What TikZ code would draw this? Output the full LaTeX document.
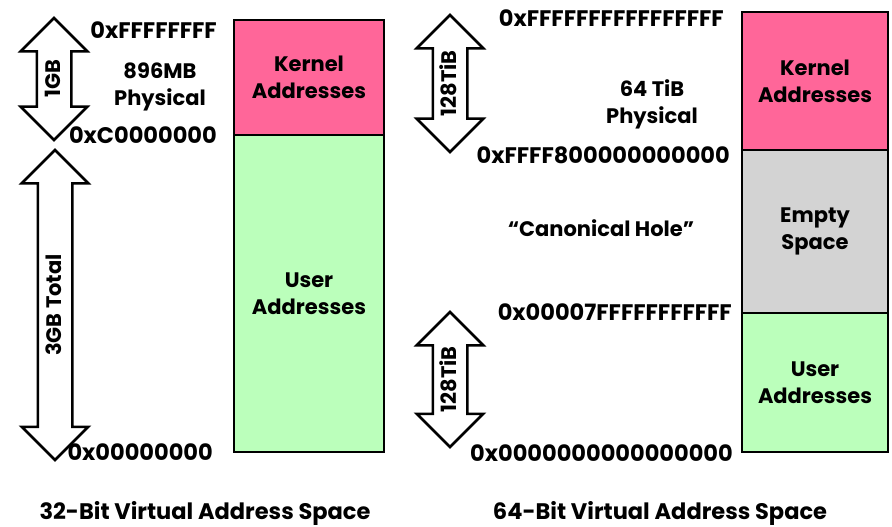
\documentclass[tikz,border=0pt]{standalone}
\usepackage{fontspec}
\setmainfont{Poppins}
\usetikzlibrary{shapes.arrows}
\definecolor{kernpink}{RGB}{255,102,153}
\definecolor{usergreen}{RGB}{187,255,187}
\definecolor{holegray}{RGB}{211,211,211}
\tikzset{
 seg/.style={draw=black, line width=2.5pt, align=center, inner sep=0pt},
 span/.style={double arrow, draw=black, line width=2.5pt, fill=white, rotate=90,
   double arrow head extend=16pt, text height=13pt, text depth=0pt,
   inner xsep=0pt, inner ysep=9.5pt},
 addr/.style={anchor=east, inner sep=0pt, font=\fontsize{22.5}{27}\selectfont\bfseries},
 lbl/.style={align=center, inner sep=0pt},
 caption/.style={inner sep=0pt, font=\fontsize{22.5}{27}\selectfont\bfseries}
}

\begin{document}
\begin{tikzpicture}[x=1pt, y=-1pt, font=\fontsize{21}{27}\selectfont\bfseries]
\useasboundingbox (0,0) rectangle (892,527);
% 32-bit layout
\node[seg, fill=kernpink, minimum width=150, minimum height=115] (kern32) at (309,77.5) {Kernel\\Addresses};
\node[seg, fill=usergreen, minimum width=150, minimum height=317] (user32) at (309,293.5) {User\\Addresses};
\node[span, minimum height=122] (gb1) at (54,79) {1GB};
\node[span, minimum height=310] (gb3) at (55,305) {3GB Total};
\node[addr] (top32) at (217,30) {0xFFFFFFFF};
\node[addr] (mid32) at (217,135) {0xC0000000};
\node[addr] (bot32) at (213,452) {0x00000000};
\node[lbl] (phys32) at (160,86.5) {896MB\\Physical};
\node[caption] (cap32) at (205,513) {32-Bit Virtual Address Space};
% 64-bit layout
\node[seg, fill=kernpink, minimum width=146, minimum height=138] (kern64) at (815,81) {Kernel\\Addresses};
\node[seg, fill=holegray, minimum width=146, minimum height=163] (hole64) at (815,231.5) {Empty\\Space};
\node[seg, fill=usergreen, minimum width=146, minimum height=139] (user64) at (815,382.5) {User\\Addresses};
\node[span, minimum height=137] (tib1) at (450,83.5) {128TiB};
\node[span, minimum height=135] (tib2) at (450,379.5) {128TiB};
\node[addr] (top64) at (724,18) {0xFFFFFFFFFFFFFFFF};
\node[addr] (hi64) at (730,155) {0xFFFF800000000000};
\node[addr] (lo64) at (732,312) {0x00007FFFFFFFFFFF};
\node[addr] (bot64) at (733,453) {0x0000000000000000};
\node[lbl] (phys64) at (652,104) {64 TiB\\Physical};
\node[lbl] (hole) at (601,228) {“Canonical Hole”};
\node[caption] (cap64) at (660,513) {64-Bit Virtual Address Space};
\end{tikzpicture}
\end{document}
